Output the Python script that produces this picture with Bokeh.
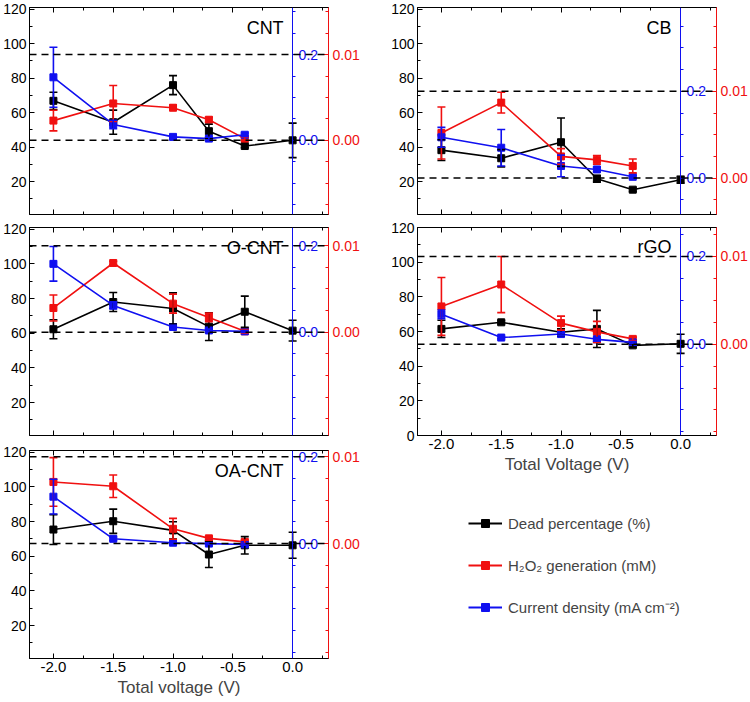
import numpy as np
from bokeh.plotting import figure
from bokeh.models import (Range1d, LinearAxis, FixedTicker, PrintfTickFormatter, Span,
                          Whisker, TeeHead, ColumnDataSource, Label, Legend, LegendItem)
from bokeh.layouts import row, column
from bokeh.embed import file_html
from bokeh.resources import INLINE

FONT = "Liberation Sans"

# ---------------- data ----------------
voltage = [-2.0, -1.5, -1.0, -0.7, -0.4, 0.0]
voltage_h = [-2.0, -1.5, -1.0, -0.7, -0.4]

# CNT
cnt_dead = [66.9, 54.5, 76.0, 49.3, 40.7, 44.0]
cnt_dead_err = [5.0, 7.0, 5.5, 4.0, 1.0, 10.0]
cnt_h2o2 = [0.0023, 0.0043, 0.0038, 0.0024, 0.0002]
cnt_h2o2_err = [0.0012, 0.0021, 0.0003, 0.0003, 0.0002]
cnt_cd = [0.147, 0.037, 0.008, 0.004, 0.013]
cnt_cd_err = [0.070, 0.010, 0.003, 0.003, 0.004]
cnt_levels = [44.0, 93.7]

# CB
cb_dead = [38.3, 33.6, 42.9, 21.7, 15.4, 21.1]
cb_dead_err = [6.0, 5.0, 14.0, 2.0, 1.0, 2.0]
cb_h2o2 = [0.0052, 0.0087, 0.0025, 0.0021, 0.0014]
cb_h2o2_err = [0.0030, 0.0012, 0.0009, 0.0005, 0.0008]
cb_cd = [0.094, 0.070, 0.028, 0.020, 0.003]
cb_cd_err = [0.023, 0.042, 0.025, 0.005, 0.003]
cb_levels = [22.1, 72.4]

# O-CNT
ocnt_dead = [62.3, 78.0, 74.3, 63.8, 72.4, 61.5]
ocnt_dead_err = [5.5, 5.5, 9.0, 8.0, 9.0, 6.0]
ocnt_h2o2 = [0.0028, 0.0080, 0.0033, 0.0017, 0.0001]
ocnt_h2o2_err = [0.0015, 0.0002, 0.0011, 0.0005, 0.0002]
ocnt_cd = [0.158, 0.062, 0.012, 0.004, 0.002]
ocnt_cd_err = [0.040, 0.008, 0.004, 0.003, 0.002]
ocnt_levels = [60.6, 110.5]

# rGO
rgo_dead = [61.5, 65.3, 59.6, 61.5, 52.0, 52.9]
rgo_dead_err = [5.0, 1.0, 2.0, 10.7, 1.0, 5.5]
rgo_h2o2 = [0.0043, 0.0068, 0.0024, 0.0014, 0.0006]
rgo_h2o2_err = [0.0033, 0.0032, 0.0008, 0.0012, 0.0002]
rgo_cd = [0.068, 0.015, 0.023, 0.011, 0.004]
rgo_cd_err = [0.010, 0.003, 0.004, 0.004, 0.002]
rgo_levels = [52.7, 103.3]

# OA-CNT
oacnt_dead = [75.4, 80.2, 74.9, 61.0, 66.3, 66.3]
oacnt_dead_err = [8.6, 7.0, 5.0, 7.5, 5.0, 7.5]
oacnt_h2o2 = [0.0071, 0.0066, 0.0017, 0.0006, 0.0002]
oacnt_h2o2_err = [0.0028, 0.0013, 0.0012, 0.0002, 0.0002]
oacnt_cd = [0.108, 0.011, 0.002, 0.000, -0.002]
oacnt_cd_err = [0.040, 0.004, 0.002, 0.002, 0.002]
oacnt_levels = [67.3, 117.4]

x_ticks = [-2.0, -1.5, -1.0, -0.5, 0.0]
y_ticks = [0, 20, 40, 60, 80, 100, 120]
cd_ticks = [0.0, 0.2]
h2o2_ticks = [0.0, 0.01]

legend_labels = ["Dead percentage (%)", "H\u2082O\u2082 generation (mM)",
                 "Current density (mA cm\u207b\u00b2)"]

BLACK, RED, BLUE = "#000000", "#f01010", "#1010f0"


def style_axis(ax, color="black", tick_in=5, tick_out=0, minor_in=3, minor_out=0,
               label_size="14px"):
    ax.axis_line_color = color
    ax.axis_line_width = 1
    ax.major_tick_line_color = color
    ax.minor_tick_line_color = color
    ax.major_tick_in = tick_in
    ax.major_tick_out = tick_out
    ax.minor_tick_in = minor_in
    ax.minor_tick_out = minor_out
    ax.major_label_text_color = color
    ax.major_label_text_font = FONT
    ax.major_label_text_font_size = label_size
    ax.major_label_standoff = 3


def hide_labels(ax):
    ax.major_label_overrides = {t: "" for t in x_ticks}
    ax.major_label_standoff = 0


def add_series(p, xs, ys, errs, color, range_name="default"):
    src = ColumnDataSource(dict(x=xs, y=ys,
                                lo=[a - b for a, b in zip(ys, errs)],
                                hi=[a + b for a, b in zip(ys, errs)]))
    p.line("x", "y", source=src, line_color=color, line_width=1.6, y_range_name=range_name)
    w = Whisker(source=src, base="x", lower="lo", upper="hi", dimension="height",
                line_color=color, line_width=1.6, y_range_name=range_name,
                upper_head=TeeHead(size=8, line_color=color, line_width=1.6),
                lower_head=TeeHead(size=8, line_color=color, line_width=1.6))
    w.level = "glyph"
    p.add_layout(w)
    p.scatter("x", "y", source=src, marker="square", size=7, fill_color=color,
              line_color=color, y_range_name=range_name)


def make_panel(name, dead, dead_err, h2o2, h2o2_err, cd, cd_err, levels, yr,
               width, height, bl, br, bt, bb, xtitle=None):
    zero, top = levels
    y0, y1 = yr
    s_cd = 0.2 / (top - zero)
    s_h = 0.01 / (top - zero)
    p = figure(width=width, height=height, x_range=Range1d(-2.2, 0.3),
               y_range=Range1d(y0, y1), output_backend="svg", toolbar_location=None,
               min_border_left=bl, min_border_right=br, min_border_top=bt,
               min_border_bottom=bb, background_fill_color="white",
               border_fill_color="white")
    p.extra_y_ranges = {"cd": Range1d((y0 - zero) * s_cd, (y1 - zero) * s_cd),
                        "h2o2": Range1d((y0 - zero) * s_h, (y1 - zero) * s_h)}
    p.xgrid.visible = False
    p.ygrid.visible = False
    p.outline_line_color = "black"
    p.outline_line_width = 1

    xt = FixedTicker(ticks=x_ticks, minor_ticks=list(np.arange(-2.25, 0.3, 0.25)))
    yt = FixedTicker(ticks=y_ticks, minor_ticks=list(range(10, 130, 20)))

    xa = p.xaxis[0]
    xa.ticker = xt
    xa.formatter = PrintfTickFormatter(format="%.1f")
    style_axis(xa, label_size="15px")
    if xtitle:
        xa.axis_label = xtitle
        xa.axis_label_text_font = FONT
        xa.axis_label_text_font_size = "17px"
        xa.axis_label_text_font_style = "normal"
        xa.axis_label_standoff = 3
    else:
        hide_labels(xa)

    ya = p.yaxis[0]
    ya.ticker = yt
    style_axis(ya)

    ta = LinearAxis(ticker=xt, formatter=PrintfTickFormatter(format="%.1f"))
    style_axis(ta)
    hide_labels(ta)
    p.add_layout(ta, "above")

    ra = LinearAxis(y_range_name="h2o2",
                    ticker=FixedTicker(ticks=h2o2_ticks,
                                       minor_ticks=list(np.arange(-0.02, 0.03, 0.0025))),
                    formatter=PrintfTickFormatter(format="%.2f"))
    style_axis(ra, color=RED)
    ra.major_label_standoff = 4
    p.add_layout(ra, "right")

    ba = LinearAxis(y_range_name="cd", fixed_location=0,
                    ticker=FixedTicker(ticks=cd_ticks,
                                       minor_ticks=list(np.arange(-0.4, 0.6, 0.05))),
                    formatter=PrintfTickFormatter(format="%.1f"))
    style_axis(ba, color=BLUE, tick_in=0, tick_out=5, minor_in=0, minor_out=3)
    ba.major_label_standoff = 1
    p.add_layout(ba, "right")

    for loc in cd_ticks:
        p.add_layout(Span(location=loc, dimension="width", y_range_name="cd",
                          line_color="black", line_width=1.5, line_dash="7 5"))

    add_series(p, voltage, dead, dead_err, BLACK)
    add_series(p, voltage_h, h2o2, h2o2_err, RED, "h2o2")
    add_series(p, voltage_h, cd, cd_err, BLUE, "cd")

    p.add_layout(Label(x=0, y=109, x_offset=-9, text=name, text_align="right",
                       text_baseline="middle", text_font=FONT, text_font_size="18px",
                       text_color="black"))
    return p


LW, RW = 370, 380
p_cnt = make_panel("CNT", cnt_dead, cnt_dead_err, cnt_h2o2, cnt_h2o2_err, cnt_cd, cnt_cd_err,
                   cnt_levels, (1, 121), LW, 219, 29, 42, 7, 5)
p_ocnt = make_panel("O-CNT", ocnt_dead, ocnt_dead_err, ocnt_h2o2, ocnt_h2o2_err, ocnt_cd,
                    ocnt_cd_err, ocnt_levels, (1, 121), LW, 223, 29, 42, 8, 7)
p_oa = make_panel("OA-CNT", oacnt_dead, oacnt_dead_err, oacnt_h2o2, oacnt_h2o2_err, oacnt_cd,
                  oacnt_cd_err, oacnt_levels, (1, 121), LW, 258, 29, 42, 8, 42,
                  xtitle="Total voltage (V)")
p_cb = make_panel("CB", cb_dead, cb_dead_err, cb_h2o2, cb_h2o2_err, cb_cd, cb_cd_err,
                  cb_levels, (1, 121), RW, 219, 47, 34, 7, 5)
p_rgo = make_panel("rGO", rgo_dead, rgo_dead_err, rgo_h2o2, rgo_h2o2_err, rgo_cd, rgo_cd_err,
                   rgo_levels, (0, 120), RW, 258, 47, 34, 8, 42,
                   xtitle="Total Voltage (V)")

# legend panel (no axes)
lf = figure(width=RW, height=223, x_range=Range1d(0, 1), y_range=Range1d(0, 1),
            output_backend="svg", toolbar_location=None, x_axis_location=None,
            y_axis_location=None, min_border_left=0, min_border_right=0,
            min_border_top=0, min_border_bottom=0)
lf.grid.visible = False
lf.outline_line_color = None
items = []
for lab, col in zip(legend_labels, [BLACK, RED, BLUE]):
    r1 = lf.line(x=[np.nan], y=[np.nan], line_color=col, line_width=2)
    r2 = lf.scatter(x=[np.nan], y=[np.nan], marker="square", size=7, fill_color=col,
                    line_color=col)
    items.append(LegendItem(label=lab, renderers=[r1, r2]))
leg = Legend(items=items, location=(51, 83), glyph_width=34, glyph_height=20,
             label_text_font=FONT, label_text_font_size="15px", spacing=22,
             padding=0, margin=0, border_line_color=None, background_fill_alpha=0,
             label_standoff=6, label_height=20)
lf.add_layout(leg, "center")

layout = row(column(p_cnt, p_ocnt, p_oa), column(p_cb, p_rgo, lf))

open("out.html", "w").write(file_html(layout, INLINE))
